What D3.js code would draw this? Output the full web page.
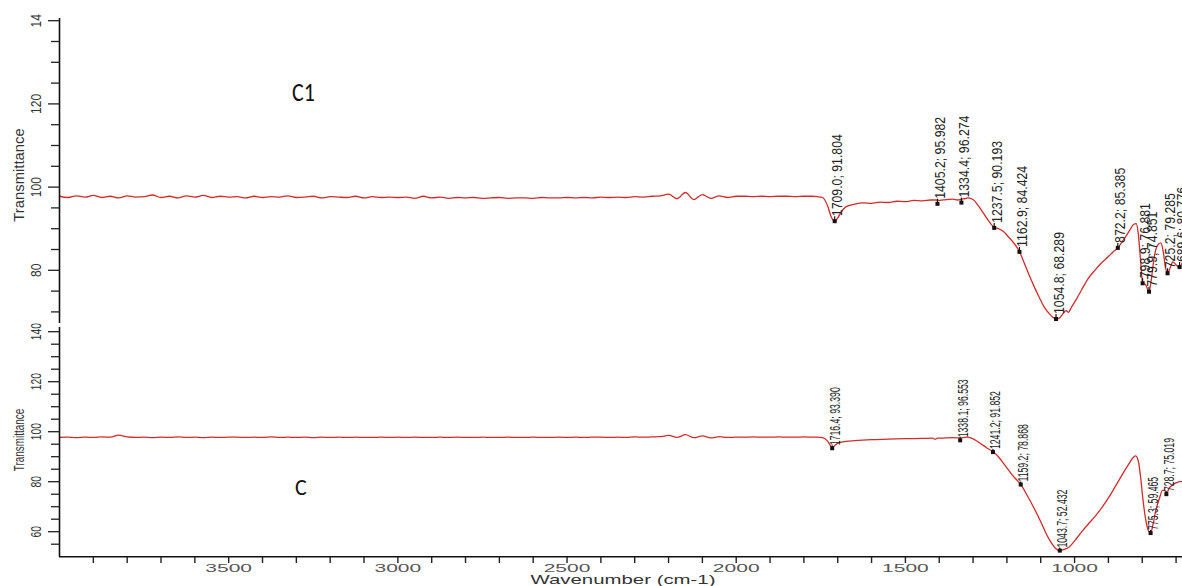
<!DOCTYPE html>
<html><head><meta charset="utf-8">
<script src="https://cdn.jsdelivr.net/npm/d3@7"></script>
<style>
html,body{margin:0;padding:0;background:#fff;}
svg{display:block;}
</style></head>
<body>
<svg id="chart" width="1182" height="586"></svg>
<script>
// ---------- DATA ----------
const gridWn = [4000,3975,3950,3925,3900,3875,3850,3825,3800,3775,3750,3725,3700,3675,3650,3625,3600,3575,3550,3525,3500,
 3475,3450,3425,3400,3375,3350,3325,3300,3275,3250,3225,3200,3175,3150,3125,3100,3075,3050,3025,3000,
 2975,2950,2925,2900,2875,2850,2825,2800,2775,2750,2725,2700,2675,2650,2625,2600,2575,2550,2525,2500,
 2475,2450,2425,2400,2375,2350,2325,2300,2275,2250,2225,2200,2175,2150,2125,2100,2075,2050,2025,2000,
 1975,1950,1925,1900,1875,1850,1825,1800,1775];

const c1BaseT = [97.8,97.5,97.9,97.6,98.0,97.5,97.8,97.4,97.9,97.6,97.7,98.1,97.5,97.8,97.4,97.9,97.6,98.0,97.5,97.8,97.6,
 97.7,97.4,97.8,97.5,97.7,97.6,97.9,97.5,97.6,97.8,97.4,97.7,97.6,97.5,97.8,97.4,97.7,97.5,97.6,97.5,
 97.6,97.3,97.8,97.4,97.6,97.3,97.5,97.4,97.5,97.3,97.4,97.5,97.3,97.4,97.4,97.3,97.5,97.4,97.4,97.5,
 97.4,97.5,97.4,97.6,97.5,97.6,97.5,97.7,97.6,97.8,97.9,98.3,97.2,98.7,97.0,98.2,97.3,97.9,97.5,97.8,
 97.8,97.7,97.8,97.7,97.8,97.8,97.7,97.8,97.8];

const c1FeatWn = [1760,1745,1730,1720,1709,1700,1690,1675,1650,1625,1600,1575,1550,1525,1500,1475,1450,1425,1410,1398,1380,1360,1345,1334,1325,1315,1300,1285,1270,1255,1237.5,1225,1210,1195,1180,1162.9,1150,1135,1120,1105,1090,1075,1065,1054.8,1045,1035,1025,1018,1010,995,980,960,940,920,900,885,872.2,860,845,835,826,818,812,806,798.9,790,779.9,772,765,755,745,738,732,725.2,718,710,702,695,689.6,680,670,660,650];
const c1FeatT  = [97.7,97.5,95.5,93.0,91.8,92.6,94.0,95.3,95.9,96.2,96.1,96.4,96.3,96.6,96.5,96.8,96.7,96.9,96.9,96.8,97.0,97.1,96.9,97.1,97.2,97.4,97.0,95.6,93.8,92.0,90.3,90.0,89.3,88.0,86.6,84.5,82.0,79.0,76.2,73.6,71.2,69.6,68.8,68.3,68.5,69.5,70.3,69.9,71.0,73.0,75.2,78.0,80.0,81.8,83.3,84.5,85.4,86.8,88.6,89.9,91.0,91.2,89.0,83.5,77.0,76.5,74.9,78.5,83.0,86.0,86.6,84.5,81.0,79.3,80.5,82.0,81.5,80.9,80.8,82.0,82.8,83.2,83.5];

const cBaseT = [97.7,97.8,97.6,97.8,97.7,97.9,97.8,98.6,97.9,97.7,97.8,97.6,97.8,97.7,97.9,97.7,97.8,97.6,97.8,97.7,97.8,
 97.8,97.7,97.8,97.7,97.9,97.7,97.8,97.7,97.8,97.6,97.8,97.7,97.8,97.7,97.8,97.7,97.7,97.8,97.7,97.8,
 97.7,97.8,97.7,97.7,97.8,97.7,97.8,97.7,97.7,97.8,97.7,97.7,97.8,97.7,97.7,97.8,97.7,97.7,97.8,97.7,
 97.8,97.7,97.8,97.8,97.7,97.8,97.7,97.9,97.8,97.9,98.0,98.5,97.7,98.8,97.6,98.3,97.5,98.0,97.7,97.8,
 97.8,97.9,97.8,97.8,97.9,97.8,97.8,97.9,97.8];

const cFeatWn = [1760,1745,1730,1722,1716.4,1708,1695,1675,1650,1600,1550,1500,1450,1420,1412,1405,1380,1360,1338,1320,1305,1290,1275,1260,1241.2,1225,1210,1195,1180,1159.2,1140,1120,1100,1085,1070,1055,1043.7,1030,1015,1000,980,960,940,920,900,880,860,840,828,820,812,805,798,790,782,775.3,768,760,750,740,733,728.7,720,710,700,690,680,670,650];
const cFeatT  = [97.8,97.6,96.2,94.5,93.6,94.6,95.6,96.1,96.4,96.8,97.0,97.2,97.3,97.4,97.0,97.4,97.5,97.6,97.5,97.8,97.4,96.4,95.0,93.6,92.0,90.0,87.3,84.6,82.0,78.9,74.5,69.5,64.0,59.5,55.8,53.2,52.5,52.9,54.0,56.3,59.8,63.0,66.0,69.5,73.5,78.0,82.6,87.0,89.5,90.3,88.5,82.0,73.0,65.0,60.5,59.6,63.0,68.5,73.0,76.5,76.5,75.2,77.5,78.8,79.5,80.0,80.0,80.2,80.5];

const c1PeakWn  = [1709.0,1405.2,1334.4,1237.5,1162.9,1054.8,872.2,798.9,779.9,725.2,689.6];
const c1PeakT   = [91.804,95.982,96.274,90.193,84.424,68.289,85.385,76.881,74.851,79.285,80.776];
const c1PeakTxt = ["1709.0; 91.804","1405.2; 95.982","1334.4; 96.274","1237.5; 90.193","1162.9; 84.424","1054.8; 68.289","872.2; 85.385","798.9; 76.881","779.9; 74.851","725.2; 79.285","689.6; 80.776"];

const cPeakWn  = [1716.4,1338.1,1241.2,1159.2,1043.7,775.3,728.7];
const cPeakT   = [93.390,96.553,91.852,78.868,52.432,59.465,75.019];
const cPeakTxt = ["1716.4; 93.390","1338.1; 96.553","1241.2; 91.852","1159.2; 78.868","1043.7; 52.432","775.3; 59.465","728.7; 75.019"];

const xTickVals = [3900,3800,3700,3600,3500,3400,3300,3200,3100,3000,2900,2800,2700,2600,2500,2400,2300,2200,2100,2000,1900,1800,1700,1600,1500,1400,1300,1200,1100,1000,900,800,700];
const xTickLabels = ["3500","3000","2500","2000","1500","1000"];
const topYTickVals = [70,75,80,85,90,95,100,105,110,115,120,125,130,135,140];
const topYLabelVals = [80,100,120,140];
const topYLabelTxt = ["80","100","120","14"];
const botYTickVals = [55,60,65,70,75,80,85,90,95,100,105,110,115,120,125,130,135,140];
const botYLabelVals = [60,80,100,120,140];
const botYLabelTxt = ["60","80","100","120","140"];
const panelNames = ["C1","C"];
const xTitle = "Wavenumber (cm-1)";
const yTitle = "Transmittance";

// ---------- DRAW ----------
const svg = d3.select("#chart");
const RED = "#d22b2b";
const SANS = "'Liberation Sans',Arial,sans-serif";

const x = d3.scaleLinear().domain([4000, 650]).range([59.5, 1193]);
const yTop = d3.scaleLinear().domain([67.5, 140]).range([322.3, 20.7]);
const yBot = d3.scaleLinear().domain([50, 140]).range([556.7, 331.7]);

function mkSeries(baseT, featWn, featT){
  const pts = gridWn.map((w,i)=>[w, baseT[i]]);
  featWn.forEach((w,i)=>pts.push([w, featT[i]]));
  return pts;
}
const c1 = mkSeries(c1BaseT, c1FeatWn, c1FeatT);
const c0 = mkSeries(cBaseT, cFeatWn, cFeatT);

function drawPanel(y, data, axisTop, axisBot, tickVals, labVals, labTxt, titleY, titleScale, labScale, peaksWn, peaksT, peaksTxt, peakScale, gapText){
  const g = svg.append("g");
  const line = d3.line().x(d=>x(d[0])).y(d=>y(d[1])).curve(d3.curveMonotoneX);
  g.append("path").datum(data).attr("d", line)
    .attr("fill","none").attr("stroke",RED).attr("stroke-width",1.3).attr("stroke-linejoin","round");
  g.append("line").attr("x1",59.5).attr("x2",59.5).attr("y1",axisTop).attr("y2",axisBot)
    .attr("stroke","#111").attr("stroke-width",1.6);
  g.selectAll(".yt").data(tickVals).enter().append("line")
    .attr("x1", d=> labVals.includes(d) ? 48 : 51).attr("x2",59.5)
    .attr("y1", d=>y(d)).attr("y2", d=>y(d))
    .attr("stroke","#222").attr("stroke-width",1.3);
  g.selectAll(".yl").data(labVals).enter().append("text")
    .attr("transform",(d)=>`translate(40.5,${y(d)}) rotate(-90) scale(${labScale},1)`)
    .attr("text-anchor","middle")
    .style("font-family",SANS).style("font-size","14px").attr("fill","#333")
    .text((d,i)=>labTxt[i]);
  g.append("text")
    .attr("transform",`translate(24,${titleY}) rotate(-90) scale(${titleScale},1)`)
    .attr("text-anchor","middle")
    .style("font-family",SANS).style("font-size","14px").attr("fill","#333")
    .text(yTitle);
  peaksWn.forEach((w,i)=>{
    const px = x(w), py = y(peaksT[i]);
    g.append("line").attr("x1",px).attr("x2",px).attr("y1",py).attr("y2",py-gapText)
      .attr("stroke","#111").attr("stroke-width",1.2);
    g.append("rect").attr("x",px-2).attr("y",py-2).attr("width",4).attr("height",4).attr("fill","#111");
    g.append("text")
      .attr("transform",`translate(${px+7.5},${py-gapText}) rotate(-90) scale(${peakScale},1)`)
      .attr("text-anchor","start")
      .style("font-family",SANS).style("font-size","15px").attr("fill","#222")
      .text(peaksTxt[i]);
  });
}

drawPanel(yTop, c1, 18, 323, topYTickVals, topYLabelVals, topYLabelTxt, 175, 1.06, 0.86, c1PeakWn, c1PeakT, c1PeakTxt, 0.82, 5);
drawPanel(yBot, c0, 327, 556.7, botYTickVals, botYLabelVals, botYLabelTxt, 440, 0.71, 0.74, cPeakWn, cPeakT, cPeakTxt, 0.58, 3);

// x axis (bottom panel)
svg.append("line").attr("x1",59).attr("x2",1182).attr("y1",556.7).attr("y2",556.7)
  .attr("stroke","#111").attr("stroke-width",1.5);
svg.selectAll(".xt").data(xTickVals).enter().append("line")
  .attr("x1",d=>x(d)).attr("x2",d=>x(d)).attr("y1",556.7).attr("y2",563)
  .attr("stroke","#222").attr("stroke-width",1.4);
svg.selectAll(".xl").data(xTickLabels).enter().append("text")
  .attr("transform",d=>`translate(${x(+d)},572) scale(2.1,1)`)
  .attr("text-anchor","middle")
  .style("font-family",SANS).style("font-size","10px").attr("fill","#555")
  .text(d=>d);
svg.append("text")
  .attr("transform",`translate(623,584) scale(1.7,1)`)
  .attr("text-anchor","middle")
  .style("font-family",SANS).style("font-size","12px").attr("fill","#333")
  .text(xTitle);

// sample labels
svg.append("text").attr("transform","translate(292,100.5) scale(1,1.25)")
  .style("font-family","Carlito,'Open Sans',Calibri,sans-serif").style("font-size","22px").attr("fill","#111")
  .text(panelNames[0]);
svg.append("text").attr("transform","translate(295,495)")
  .style("font-family","Carlito,'Open Sans',Calibri,sans-serif").style("font-size","22px").attr("fill","#111")
  .text(panelNames[1]);
</script>
</body></html>
